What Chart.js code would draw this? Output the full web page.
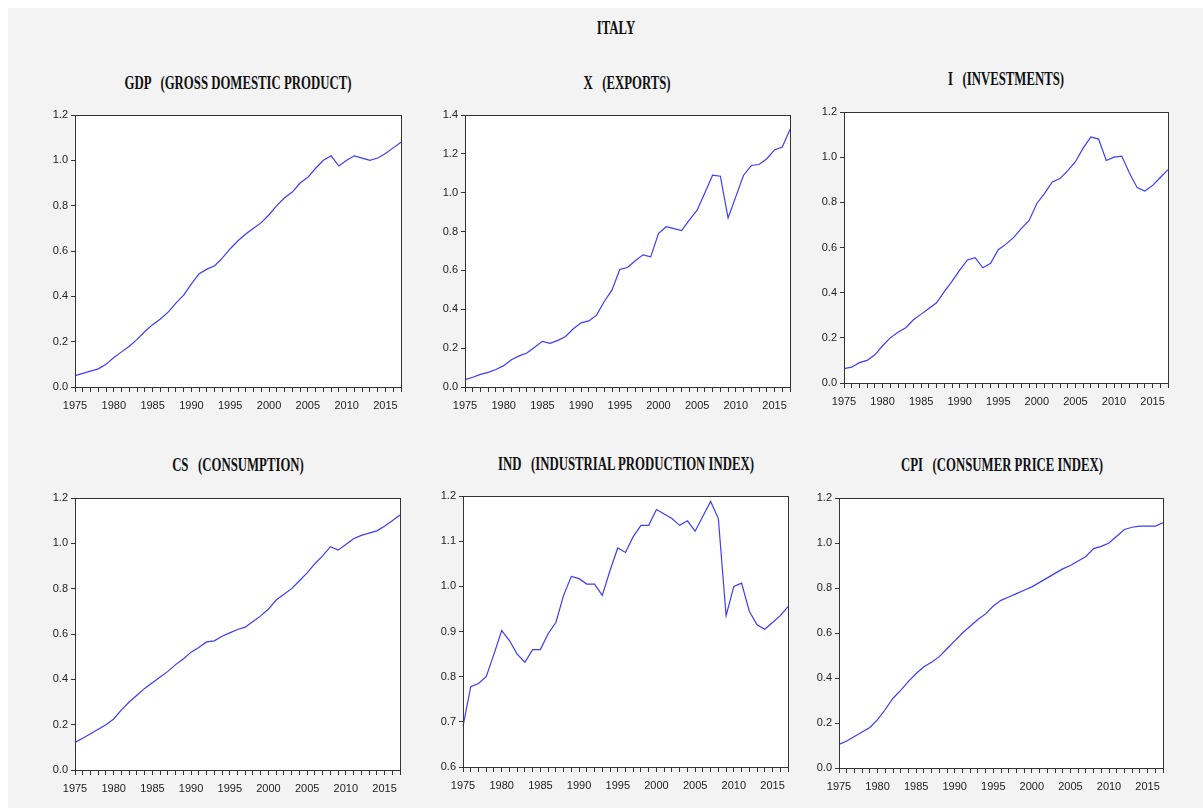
<!DOCTYPE html>
<html>
<head>
<meta charset="utf-8">
<script src="https://cdn.jsdelivr.net/npm/chart.js@4"></script>
<style>
  html, body { margin: 0; padding: 0; background: #ffffff; }
  #page {
    position: absolute; left: 8px; top: 8px; width: 1195px; height: 800px;
    background: #f3f3f3; overflow: hidden;
  }
  .title {
    position: absolute; white-space: pre; text-align: center;
    font-family: "Liberation Serif", "Times New Roman", serif;
    font-weight: bold; font-size: 18px; color: #111;
    transform: translate(-50%, -50%) scaleX(0.71);
  }
  .box { position: absolute; }
</style>
</head>
<body>
<div id="page"></div>
<script>
// yearly observations, Italy
const years = [];
for (let y = 1975; y <= 2017; y++) years.push(y);

const gdp = [0.05, 0.06, 0.07, 0.08, 0.10, 0.13, 0.155, 0.18, 0.21, 0.245,
  0.275, 0.30, 0.33, 0.37, 0.405, 0.455, 0.50, 0.52, 0.535, 0.57,
  0.61, 0.645, 0.675, 0.70, 0.725, 0.76, 0.80, 0.835, 0.86, 0.90,
  0.925, 0.965, 1.00, 1.02, 0.975, 1.00, 1.02, 1.01, 1.00, 1.01,
  1.03, 1.055, 1.08];

const exportsX = [0.038, 0.05, 0.065, 0.075, 0.09, 0.11, 0.14, 0.16, 0.175, 0.205,
  0.235, 0.225, 0.24, 0.26, 0.30, 0.33, 0.34, 0.37, 0.44, 0.50,
  0.605, 0.615, 0.65, 0.68, 0.67, 0.79, 0.825, 0.815, 0.805, 0.86,
  0.91, 1.00, 1.09, 1.085, 0.87, 0.98, 1.09, 1.14, 1.145, 1.175,
  1.22, 1.235, 1.325];

const investments = [0.064, 0.07, 0.09, 0.10, 0.125, 0.165, 0.20, 0.225, 0.245, 0.28,
  0.305, 0.33, 0.355, 0.405, 0.45, 0.50, 0.545, 0.555, 0.51, 0.53,
  0.59, 0.615, 0.645, 0.685, 0.72, 0.795, 0.84, 0.89, 0.905, 0.94,
  0.98, 1.04, 1.09, 1.08, 0.985, 1.00, 1.005, 0.93, 0.865, 0.85,
  0.875, 0.91, 0.945];

const consumption = [0.122, 0.14, 0.16, 0.18, 0.20, 0.225, 0.265, 0.30, 0.33, 0.36,
  0.385, 0.41, 0.435, 0.465, 0.49, 0.52, 0.54, 0.565, 0.57, 0.59,
  0.605, 0.62, 0.63, 0.655, 0.68, 0.71, 0.75, 0.775, 0.80, 0.835,
  0.87, 0.91, 0.945, 0.985, 0.97, 0.995, 1.02, 1.035, 1.045, 1.055,
  1.075, 1.10, 1.125];

const industrial = [0.69, 0.778, 0.785, 0.80, 0.85, 0.902, 0.88, 0.85, 0.832, 0.86,
  0.86, 0.895, 0.92, 0.98, 1.022, 1.017, 1.005, 1.005, 0.98, 1.035,
  1.085, 1.075, 1.11, 1.135, 1.135, 1.17, 1.16, 1.15, 1.135, 1.145,
  1.122, 1.155, 1.188, 1.15, 0.935, 1.00, 1.007, 0.945, 0.915, 0.905,
  0.92, 0.935, 0.955];

const cpi = [0.105, 0.12, 0.14, 0.16, 0.18, 0.215, 0.26, 0.31, 0.345, 0.385,
  0.42, 0.45, 0.47, 0.495, 0.53, 0.565, 0.60, 0.63, 0.66, 0.685,
  0.72, 0.745, 0.76, 0.775, 0.79, 0.805, 0.825, 0.845, 0.865, 0.885,
  0.90, 0.92, 0.94, 0.975, 0.985, 1.00, 1.03, 1.06, 1.07, 1.075,
  1.075, 1.075, 1.09];

const panelTitles = [
  "GDP   (GROSS DOMESTIC PRODUCT)",
  "X   (EXPORTS)",
  "I   (INVESTMENTS)",
  "CS   (CONSUMPTION)",
  "IND   (INDUSTRIAL PRODUCTION INDEX)",
  "CPI   (CONSUMER PRICE INDEX)"
];
const panelSeries = [gdp, exportsX, investments, consumption, industrial, cpi];
const yRanges = [[0, 1.2, 0.2], [0, 1.4, 0.2], [0, 1.2, 0.2], [0, 1.2, 0.2], [0.6, 1.2, 0.1], [0, 1.2, 0.2]];

// plot rectangles (left, top, right, bottom) and title centres, page coords
const plotRects = [
  [75, 115, 401, 387], [465, 115, 790, 387], [844, 112, 1168, 383],
  [75, 498, 400, 770], [463, 496, 788, 767], [839, 498, 1163, 768]
];
const titlePos = [[238, 83], [627, 83], [1006, 79], [238, 465], [626, 464], [1002, 465]];

const page = document.getElementById("page");
const OX = 8, OY = 8;
const Y_AXIS_W = 35, X_AXIS_H = 28, PAD = 10;

function addTitle(text, cx, cy) {
  const d = document.createElement("div");
  d.className = "title";
  d.textContent = text;
  d.style.left = (cx - OX) + "px";
  d.style.top = (cy - OY) + "px";
  page.appendChild(d);
}

addTitle("ITALY", 616, 28);

// white plot area with a frame round it
const framePlugin = {
  id: "frame",
  beforeDraw(chart) {
    const a = chart.chartArea;
    const ctx = chart.ctx;
    ctx.save();
    ctx.fillStyle = "#ffffff";
    ctx.fillRect(a.left, a.top, a.right - a.left, a.bottom - a.top);
    ctx.restore();
  },
  afterDraw(chart) {
    const a = chart.chartArea;
    const ctx = chart.ctx;
    ctx.save();
    ctx.strokeStyle = "#333333";
    ctx.lineWidth = 1;
    ctx.strokeRect(Math.round(a.left) + 0.5, Math.round(a.top) + 0.5,
      Math.round(a.right - a.left), Math.round(a.bottom - a.top));
    ctx.restore();
  }
};

const tickFont = { family: "'Liberation Sans Narrow', 'Liberation Sans', Arial, sans-serif", size: 11 };

panelSeries.forEach(function (series, i) {
  const r = plotRects[i];
  addTitle(panelTitles[i], titlePos[i][0], titlePos[i][1]);

  const box = document.createElement("div");
  box.className = "box";
  box.style.left = (r[0] - Y_AXIS_W - OX) + "px";
  box.style.top = (r[1] - PAD - OY) + "px";
  box.style.width = (r[2] - r[0] + Y_AXIS_W + PAD) + "px";
  box.style.height = (r[3] - r[1] + PAD + X_AXIS_H) + "px";
  const canvas = document.createElement("canvas");
  box.appendChild(canvas);
  page.appendChild(box);

  const yr = yRanges[i];
  new Chart(canvas.getContext("2d"), {
    type: "line",
    data: {
      labels: years,
      datasets: [{
        data: series,
        borderColor: "#3c3cff",
        borderWidth: 1.2,
        pointRadius: 0,
        tension: 0,
        fill: false
      }]
    },
    options: {
      responsive: true,
      maintainAspectRatio: false,
      animation: false,
      events: [],
      layout: { padding: { top: PAD, right: PAD, left: 0, bottom: 0 } },
      plugins: { legend: { display: false }, title: { display: false }, tooltip: { enabled: false } },
      scales: {
        x: {
          type: "category",
          offset: false,
          afterFit: function (axis) { axis.height = X_AXIS_H; },
          grid: { display: true, drawOnChartArea: false, drawTicks: true, tickLength: 5, color: "#333333" },
          border: { display: true, color: "#333333" },
          ticks: {
            autoSkip: false, maxRotation: 0, padding: 7, color: "#222222", font: tickFont,
            callback: function (val, idx) {
              const yv = years[idx];
              return yv % 5 === 0 ? String(yv) : "";
            }
          }
        },
        y: {
          min: yr[0], max: yr[1],
          afterFit: function (axis) { axis.width = Y_AXIS_W; },
          grid: { display: true, drawOnChartArea: false, drawTicks: true, tickLength: 4, color: "#333333" },
          border: { display: true, color: "#333333" },
          ticks: {
            stepSize: yr[2], padding: 3, color: "#222222", font: tickFont,
            callback: function (v) { return Number(v).toFixed(1); }
          }
        }
      }
    },
    plugins: [framePlugin]
  });
});
</script>
</body>
</html>
